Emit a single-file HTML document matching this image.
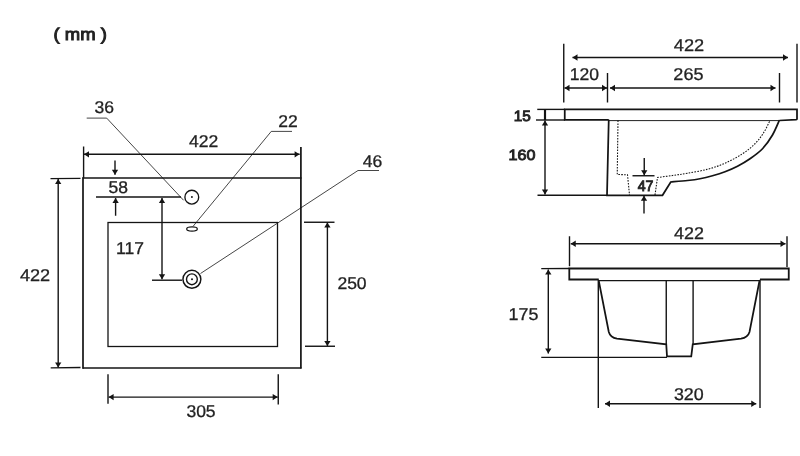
<!DOCTYPE html>
<html><head><meta charset="utf-8"><title>Basin dimensions (mm)</title>
<style>
html,body{margin:0;padding:0;background:#fff;}
body{width:800px;height:456px;overflow:hidden;}
svg{display:block;will-change:transform;}
svg line,svg path,svg rect,svg circle,svg ellipse{fill:none;stroke:#141414;}
svg .a{fill:#141414;stroke:none;}
svg text{font-family:"Liberation Sans",Arial,sans-serif;fill:#222;stroke:none;text-rendering:geometricPrecision;}
svg .t{font-size:17px;stroke:#222;stroke-width:0.3px;}
svg .tm{font-size:14.8px;stroke:#222;stroke-width:0.9px;}
svg .tb{font-size:17px;stroke:#222;stroke-width:0.95px;}
</style></head><body>
<svg width="800" height="456" viewBox="0 0 800 456">
<rect x="0" y="0" width="800" height="456" style="fill:#fff;stroke:none"/>
<text class="tb" transform="translate(53.6,39.7) scale(1.085,1)">( mm )</text>
<line x1="83.6" y1="146.5" x2="83.6" y2="178" stroke-width="1.40"/>
<line x1="83.0" y1="177.3" x2="83.0" y2="368.7" stroke-width="1.71"/>
<line x1="300.9" y1="147" x2="300.9" y2="368.6" stroke-width="1.71"/>
<line x1="82.7" y1="178" x2="301.5" y2="178" stroke-width="1.71"/>
<line x1="82.7" y1="368" x2="301.5" y2="368" stroke-width="1.71"/>
<rect x="108" y="222.5" width="169.5" height="124" stroke-width="1.3"/>
<line x1="84" y1="154.3" x2="299.6" y2="154.3" stroke-width="1.40"/>
<polygon class="a" points="84.00,154.30 89.00,151.15 89.00,157.45"/>
<polygon class="a" points="299.60,154.30 294.60,157.45 294.60,151.15"/>
<text class="t" transform="translate(203.7,147.10) scale(1.03,1)" text-anchor="middle" >422</text>
<line x1="58.2" y1="179" x2="58.2" y2="367.5" stroke-width="1.40"/>
<polygon class="a" points="58.20,179.00 61.35,184.00 55.05,184.00"/>
<polygon class="a" points="58.20,367.50 55.05,362.50 61.35,362.50"/>
<line x1="50.5" y1="178.6" x2="80.5" y2="178.3" stroke-width="1.27"/>
<line x1="50.7" y1="367.9" x2="80.5" y2="367.5" stroke-width="1.27"/>
<text class="t" transform="translate(35,280.80) scale(1.065,1)" text-anchor="middle" >422</text>
<text class="t" transform="translate(104.25,112.70) scale(1.03,1)" text-anchor="middle" >36</text>
<path d="M86.7,118.1 H106.7 L183.6,200.3" stroke-width="0.79" />
<circle cx="191.8" cy="197.15" r="6.9" stroke-width="1.35"/>
<circle class="a" cx="191.9" cy="197.05" r="0.95"/>
<line x1="115" y1="160.6" x2="115" y2="174.8" stroke-width="1.40"/>
<polygon class="a" points="115.00,174.80 111.85,169.80 118.15,169.80"/>
<line x1="96" y1="197.1" x2="181" y2="197.1" stroke-width="1.46"/>
<line x1="115.6" y1="198" x2="115.6" y2="215.75" stroke-width="1.40"/>
<polygon class="a" points="115.60,198.00 118.75,203.00 112.45,203.00"/>
<text class="t" transform="translate(118.25,193.10) scale(1.03,1)" text-anchor="middle" >58</text>
<line x1="162" y1="198" x2="162" y2="279.2" stroke-width="1.40"/>
<polygon class="a" points="162.00,198.00 165.15,203.00 158.85,203.00"/>
<polygon class="a" points="162.00,279.20 158.85,274.20 165.15,274.20"/>
<line x1="152" y1="280.2" x2="182.2" y2="280.2" stroke-width="1.40"/>
<text class="t" transform="translate(130,253.70) scale(1.03,1)" text-anchor="middle" >117</text>
<ellipse cx="192" cy="228.95" rx="5.3" ry="2.1" stroke-width="1.25"/>
<text class="t" transform="translate(288.1,126.70) scale(1.03,1)" text-anchor="middle" >22</text>
<path d="M292,131.4 H271.25 L193,226.4" stroke-width="0.79" />
<circle cx="191.9" cy="279.3" r="8.95" stroke-width="1.45"/>
<circle cx="191.9" cy="279.3" r="5.4" stroke-width="1.4"/>
<circle class="a" cx="192" cy="279.3" r="1"/>
<text class="t" transform="translate(372.5,166.70) scale(1.03,1)" text-anchor="middle" >46</text>
<path d="M379,170.5 H358 L200.5,273.5" stroke-width="0.79" />
<line x1="327.4" y1="222.6" x2="327.4" y2="346" stroke-width="1.40"/>
<polygon class="a" points="327.40,222.60 330.55,227.60 324.25,227.60"/>
<polygon class="a" points="327.40,346.00 324.25,341.00 330.55,341.00"/>
<line x1="304" y1="222.25" x2="334.5" y2="222.25" stroke-width="1.40"/>
<line x1="305" y1="346.25" x2="335" y2="346.25" stroke-width="1.40"/>
<text class="t" transform="translate(352,289.20) scale(1.03,1)" text-anchor="middle" >250</text>
<line x1="108.6" y1="397.1" x2="277.7" y2="397.1" stroke-width="1.40"/>
<polygon class="a" points="108.60,397.10 113.60,393.95 113.60,400.25"/>
<polygon class="a" points="277.70,397.10 272.70,400.25 272.70,393.95"/>
<line x1="108" y1="374.25" x2="108" y2="403.75" stroke-width="1.40"/>
<line x1="278.25" y1="374.25" x2="278.25" y2="404.5" stroke-width="1.40"/>
<text class="t" transform="translate(201,416.50) scale(1.03,1)" text-anchor="middle" >305</text>
<line x1="563.75" y1="43.75" x2="563.75" y2="102.5" stroke-width="1.40"/>
<line x1="797" y1="43.75" x2="797" y2="102.5" stroke-width="1.40"/>
<line x1="607.5" y1="73" x2="607.5" y2="102.5" stroke-width="1.40"/>
<line x1="779.5" y1="73" x2="779.5" y2="102.5" stroke-width="1.40"/>
<line x1="572.5" y1="57.5" x2="788" y2="57.5" stroke-width="1.40"/>
<polygon class="a" points="572.50,57.50 577.50,54.35 577.50,60.65"/>
<polygon class="a" points="788.00,57.50 783.00,60.65 783.00,54.35"/>
<line x1="564.5" y1="88" x2="607" y2="88" stroke-width="1.40"/>
<polygon class="a" points="564.50,88.00 569.50,84.85 569.50,91.15"/>
<polygon class="a" points="607.00,88.00 602.00,91.15 602.00,84.85"/>
<line x1="610" y1="88" x2="775.5" y2="88" stroke-width="1.40"/>
<polygon class="a" points="610.00,88.00 615.00,84.85 615.00,91.15"/>
<polygon class="a" points="775.50,88.00 770.50,91.15 770.50,84.85"/>
<text class="t" transform="translate(689,51.20) scale(1.07,1)" text-anchor="middle" >422</text>
<text class="t" transform="translate(584.4,80.10) scale(1.03,1)" text-anchor="middle" >120</text>
<text class="t" transform="translate(688.4,80.10) scale(1.06,1)" text-anchor="middle" >265</text>
<path d="M608.75,119.75 H564.75 V109.25 H797 V119.1 Q797,119.6 796.2,119.65 L779.5,120.5" stroke-width="1.75" />
<path d="M608.75,119.75 L607,195.25 H662.5 L670.75,182 C673.54,181.75 682.62,181.04 687.50,180.50 C692.38,179.96 695.83,179.54 700.00,178.75 C704.17,177.96 708.33,176.92 712.50,175.75 C716.67,174.58 720.83,173.33 725.00,171.75 C729.17,170.17 733.33,168.42 737.50,166.25 C741.67,164.08 745.83,161.67 750.00,158.75 C754.17,155.83 758.75,152.71 762.50,148.75 C766.25,144.79 769.67,139.79 772.50,135.00 C775.33,130.21 778.33,122.50 779.50,120.00" stroke-width="1.75" />
<line x1="608.75" y1="120.6" x2="779.5" y2="120.6" stroke-width="0.95"/>
<path d="M618,120.5 L617.25,174.5 L627.5,174.75 L629.5,195" stroke-width="1.08" stroke-dasharray="1.6 1.3"/>
<path d="M655,195 L657.5,177.5 C660.00,177.17 667.50,176.21 672.50,175.50 C677.50,174.79 681.67,174.29 687.50,173.25 C693.33,172.21 701.25,170.92 707.50,169.25 C713.75,167.58 719.17,165.83 725.00,163.25 C730.83,160.67 737.50,157.00 742.50,153.75 C747.50,150.50 751.46,147.29 755.00,143.75 C758.54,140.21 761.25,136.38 763.75,132.50 C766.25,128.62 768.96,122.50 770.00,120.50" stroke-width="1.08" stroke-dasharray="1.6 1.3"/>
<line x1="537.25" y1="109.4" x2="565" y2="109.4" stroke-width="1.40"/>
<line x1="536" y1="120" x2="565" y2="120" stroke-width="1.40"/>
<line x1="545" y1="109.4" x2="545" y2="120" stroke-width="2.16"/>
<line x1="545" y1="120.6" x2="545" y2="194.6" stroke-width="1.40"/>
<polygon class="a" points="545.00,120.60 548.15,125.60 541.85,125.60"/>
<polygon class="a" points="545.00,194.60 541.85,189.60 548.15,189.60"/>
<line x1="537.5" y1="195.25" x2="607" y2="195.25" stroke-width="1.40"/>
<text class="tm" transform="translate(522.3,121.10) scale(1.04,1)" text-anchor="middle" >15</text>
<text class="tm" transform="translate(521.9,160.20) scale(1.09,1)" text-anchor="middle" >160</text>
<line x1="632.5" y1="175.75" x2="654.5" y2="175.75" stroke-width="1.40"/>
<line x1="644.25" y1="158" x2="644.25" y2="175.3" stroke-width="1.40"/>
<polygon class="a" points="644.25,175.30 641.10,170.30 647.40,170.30"/>
<line x1="644" y1="195.8" x2="644" y2="213.5" stroke-width="1.40"/>
<polygon class="a" points="644.00,195.80 647.15,200.80 640.85,200.80"/>
<text class="tm" transform="translate(645.6,191.40) scale(0.955,1)" text-anchor="middle" >47</text>
<line x1="569.5" y1="236.25" x2="569.5" y2="266.25" stroke-width="1.40"/>
<line x1="787" y1="236.25" x2="787" y2="267" stroke-width="1.40"/>
<line x1="570.75" y1="243.75" x2="785.5" y2="243.75" stroke-width="1.40"/>
<polygon class="a" points="570.75,243.75 575.75,240.60 575.75,246.90"/>
<polygon class="a" points="785.50,243.75 780.50,246.90 780.50,240.60"/>
<text class="t" transform="translate(689.0,238.80) scale(1.055,1)" text-anchor="middle" >422</text>
<line x1="541.25" y1="268.6" x2="569.5" y2="268.5" stroke-width="1.40"/>
<path d="M598.75,279.5 H569.3 V268.5 H788.75 V279.5 H760" stroke-width="1.80" />
<line x1="598.75" y1="280.6" x2="760" y2="280.6" stroke-width="1.40"/>
<line x1="598.3" y1="279.75" x2="598.3" y2="408" stroke-width="1.40"/>
<line x1="760" y1="279.75" x2="760" y2="408" stroke-width="1.40"/>
<path d="M598.75,280.75 L608.8,332 Q610.4,337.6 617,338.7 L666.25,344.4 L667,356.25 H691.25 L692.75,344.4 L741,338.7 Q747.8,337.6 749.5,332 L759.5,280.75" stroke-width="1.75" />
<line x1="666.25" y1="280.6" x2="666.25" y2="344.5" stroke-width="1.40"/>
<line x1="693.1" y1="280.6" x2="693.1" y2="344.5" stroke-width="1.40"/>
<line x1="548.3" y1="269.6" x2="548.3" y2="353.5" stroke-width="1.40"/>
<polygon class="a" points="548.30,269.60 551.45,274.60 545.15,274.60"/>
<polygon class="a" points="548.30,353.50 545.15,348.50 551.45,348.50"/>
<line x1="541.25" y1="357.4" x2="667" y2="357.4" stroke-width="1.40"/>
<text class="t" transform="translate(523.5,320.20) scale(1.05,1)" text-anchor="middle" >175</text>
<line x1="605" y1="403.75" x2="756.25" y2="403.75" stroke-width="1.40"/>
<polygon class="a" points="605.00,403.75 610.00,400.60 610.00,406.90"/>
<polygon class="a" points="756.25,403.75 751.25,406.90 751.25,400.60"/>
<text class="t" transform="translate(688.8,400.20) scale(1.05,1)" text-anchor="middle" >320</text>
</svg>
</body></html>
